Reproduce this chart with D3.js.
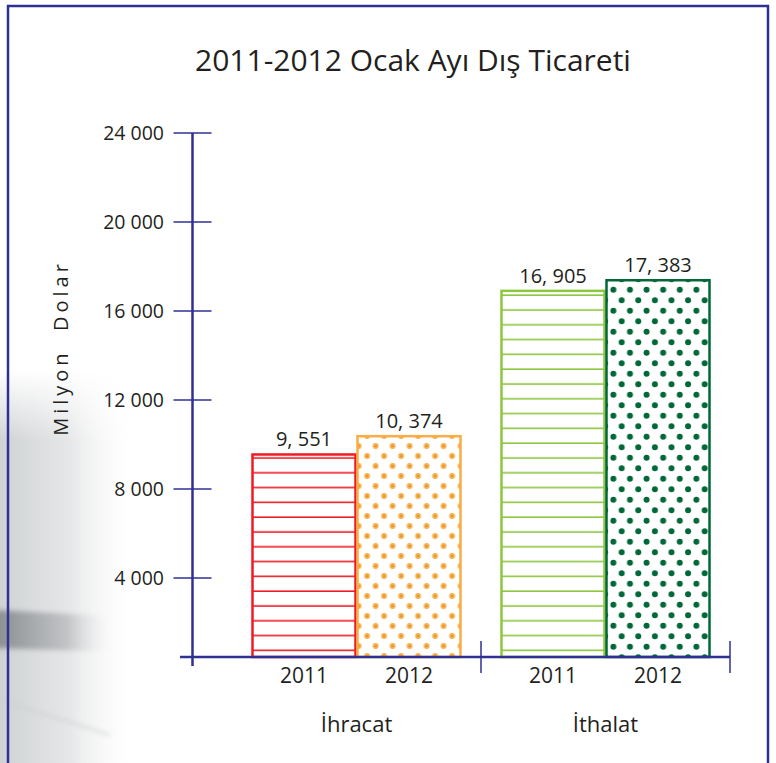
<!DOCTYPE html>
<html>
<head>
<meta charset="utf-8">
<script src="https://cdn.jsdelivr.net/npm/d3@7"></script>
<style>
  body { margin: 0; background: #fff; }
  text { font-family: "Open Sans", sans-serif; fill: #231f20; }
</style>
</head>
<body>
<svg id="chart" width="776" height="763"></svg>
<script>
// data
var groups = ["İhracat", "İthalat"];
var years = ["2011", "2012"];
var ihracat = [9551, 10374];
var ithalat = [16905, 17383];
var yTicks = [4000, 8000, 12000, 16000, 20000, 24000];

var seriesValues = [ihracat, ithalat];
var navy = "#2e3192";

var svg = d3.select("#chart");
var defs = svg.append("defs");

// soft gray wash on the left (a photo in the original)
var bg = defs.append("linearGradient").attr("id", "bgFade").attr("x1", 0).attr("x2", 1);
bg.append("stop").attr("offset", "0%").attr("stop-color", "#cfd2d4");
bg.append("stop").attr("offset", "50%").attr("stop-color", "#e6e7e8");
bg.append("stop").attr("offset", "100%").attr("stop-color", "#fff").attr("stop-opacity", 0);
var band = defs.append("linearGradient").attr("id", "bandFade").attr("x1", 0).attr("x2", 1);
band.append("stop").attr("offset", "0%").attr("stop-color", "#8a8d90");
band.append("stop").attr("offset", "60%").attr("stop-color", "#c2c4c6");
band.append("stop").attr("offset", "100%").attr("stop-color", "#fff").attr("stop-opacity", 0);
var vmask = defs.append("linearGradient").attr("id", "vFade").attr("x1", 0).attr("x2", 0).attr("y1", 0).attr("y2", 1);
vmask.append("stop").attr("offset", "0%").attr("stop-color", "#fff").attr("stop-opacity", 0);
vmask.append("stop").attr("offset", "18%").attr("stop-color", "#fff").attr("stop-opacity", 1);
vmask.append("stop").attr("offset", "100%").attr("stop-color", "#fff").attr("stop-opacity", 1);
defs.append("mask").attr("id", "topFade")
  .append("rect").attr("x", 0).attr("y", 370).attr("width", 160).attr("height", 393).attr("fill", "url(#vFade)");
var blur = defs.append("filter").attr("id", "soft").attr("x", "-20%").attr("y", "-50%").attr("width", "140%").attr("height", "200%");
blur.append("feGaussianBlur").attr("stdDeviation", 2.5);

var wash = svg.append("g").attr("mask", "url(#topFade)");
wash.append("rect").attr("x", 0).attr("y", 370).attr("width", 140).attr("height", 393)
  .attr("fill", "url(#bgFade)");
wash.append("path").attr("d", "M-5,610 L112,616 L116,652 L-5,648 Z").attr("fill", "url(#bandFade)")
  .attr("filter", "url(#soft)");
wash.append("path").attr("d", "M0,700 L110,735").attr("stroke", "#c9cbcd").attr("stroke-width", 1.5)
  .attr("fill", "none").attr("filter", "url(#soft)");

// border
svg.append("rect").attr("x", 8).attr("y", 6).attr("width", 760).attr("height", 770)
  .attr("fill", "none").attr("stroke", navy).attr("stroke-width", 2.5);

// scales
var y = d3.scaleLinear().domain([0, 24000]).range([667, 133]);
var baseY = 657;
var x0 = d3.scaleBand().domain(groups).range([232, 730]);
var x1 = d3.scaleBand().domain(years).range([0, 210]);
var innerPad = (x0.bandwidth() - 210) / 2;

// patterns
function linePattern(id, color) {
  var p = defs.append("pattern").attr("id", id).attr("patternUnits", "userSpaceOnUse")
    .attr("width", 20).attr("height", 14.8);
  p.append("rect").attr("width", 20).attr("height", 14.8).attr("fill", "#fff");
  p.append("line").attr("x1", 0).attr("x2", 20).attr("y1", 14).attr("y2", 14)
    .attr("stroke", color).attr("stroke-width", 1.6);
}
function dotPattern(id, color, w, h, r, centre) {
  var p = defs.append("pattern").attr("id", id).attr("patternUnits", "userSpaceOnUse")
    .attr("width", w).attr("height", h);
  p.append("rect").attr("width", w).attr("height", h).attr("fill", "#fff");
  [[w * 0.3, h * 0.3], [w * 0.8, h * 0.8]].forEach(function(c) {
    p.append("circle").attr("cx", c[0]).attr("cy", c[1]).attr("r", r).attr("fill", color);
    if (centre) p.append("circle").attr("cx", c[0]).attr("cy", c[1]).attr("r", 0.6).attr("fill", centre);
  });
}
linePattern("redLines", "#ed1c24");
linePattern("greenLines", "#8dc63f");
dotPattern("orangeDots", "#f9ad43", 17, 20, 2.9, "#7a4a10");
dotPattern("greenDots", "#006838", 16.6, 21, 3.0, null);

var styles = [
  [{ stroke: "#ed1c24", fill: "redLines" }, { stroke: "#f9ad43", fill: "orangeDots" }],
  [{ stroke: "#8dc63f", fill: "greenLines" }, { stroke: "#006838", fill: "greenDots" }]
];

// bars
var g = svg.selectAll("g.group")
  .data(groups)
  .enter().append("g")
    .attr("class", "group")
    .attr("transform", function(d) { return "translate(" + (x0(d) + innerPad) + ",0)"; });

g.each(function(grp, gi) {
  var sel = d3.select(this);
  var bars = sel.selectAll("g.bar")
    .data(years.map(function(yr, i) { return { year: yr, value: seriesValues[gi][i], style: styles[gi][i] }; }))
    .enter().append("g").attr("class", "bar");

  bars.append("rect")
    .attr("x", function(d) { return x1(d.year) + 1; })
    .attr("y", function(d) { return y(d.value); })
    .attr("width", x1.bandwidth() - 2)
    .attr("height", function(d) { return baseY - y(d.value); })
    .attr("fill", function(d) { return "url(#" + d.style.fill + ")"; })
    .attr("stroke", function(d) { return d.style.stroke; })
    .attr("stroke-width", 2.5);

  bars.append("text")
    .attr("x", function(d) { return x1(d.year) + x1.bandwidth() / 2; })
    .attr("y", function(d) { return y(d.value) - 8; })
    .attr("text-anchor", "middle")
    .attr("font-size", 20)
    .text(function(d) { return d3.format(",")(d.value).replace(",", ", "); });

  bars.append("text")
    .attr("x", function(d) { return x1(d.year) + x1.bandwidth() / 2; })
    .attr("y", baseY + 26)
    .attr("text-anchor", "middle")
    .attr("font-size", 21)
    .text(function(d) { return d.year; });

  sel.append("text")
    .attr("x", 105)
    .attr("y", baseY + 75)
    .attr("text-anchor", "middle")
    .attr("font-size", 22)
    .text(grp);
});

// y axis
var axisX = 192.5;
svg.append("line").attr("x1", axisX).attr("x2", axisX).attr("y1", y(24000)).attr("y2", baseY + 9)
  .attr("stroke", navy).attr("stroke-width", 2.5);
svg.selectAll("line.ytick").data(yTicks).enter().append("line")
  .attr("class", "ytick")
  .attr("x1", axisX - 19).attr("x2", axisX + 19)
  .attr("y1", function(d) { return y(d); }).attr("y2", function(d) { return y(d); })
  .attr("stroke", navy).attr("stroke-width", 1.5);
svg.selectAll("text.ylab").data(yTicks).enter().append("text")
  .attr("class", "ylab")
  .attr("x", 164)
  .attr("y", function(d) { return y(d) + 7; })
  .attr("text-anchor", "end")
  .attr("font-size", 19.5)
  .text(function(d) { return d3.format(",")(d).replace(",", " "); });

// x axis
svg.append("line").attr("x1", 180).attr("x2", x0.range()[1]).attr("y1", baseY).attr("y2", baseY)
  .attr("stroke", navy).attr("stroke-width", 2.5);
svg.selectAll("line.xsep").data(groups).enter().append("line")
  .attr("class", "xsep")
  .attr("x1", function(d) { return x0(d) + x0.bandwidth(); })
  .attr("x2", function(d) { return x0(d) + x0.bandwidth(); })
  .attr("y1", baseY - 16).attr("y2", baseY + 16)
  .attr("stroke", navy).attr("stroke-width", 1.5);

// title and axis title
svg.append("text").attr("x", 413).attr("y", 71).attr("text-anchor", "middle")
  .attr("font-size", 30).text("2011-2012 Ocak Ayı Dış Ticareti");
svg.append("text")
  .attr("transform", "translate(68,348) rotate(-90)")
  .attr("text-anchor", "middle")
  .attr("font-size", 20)
  .attr("letter-spacing", 4)
  .attr("xml:space", "preserve")
  .text("Milyon  Dolar");
</script>
</body>
</html>
